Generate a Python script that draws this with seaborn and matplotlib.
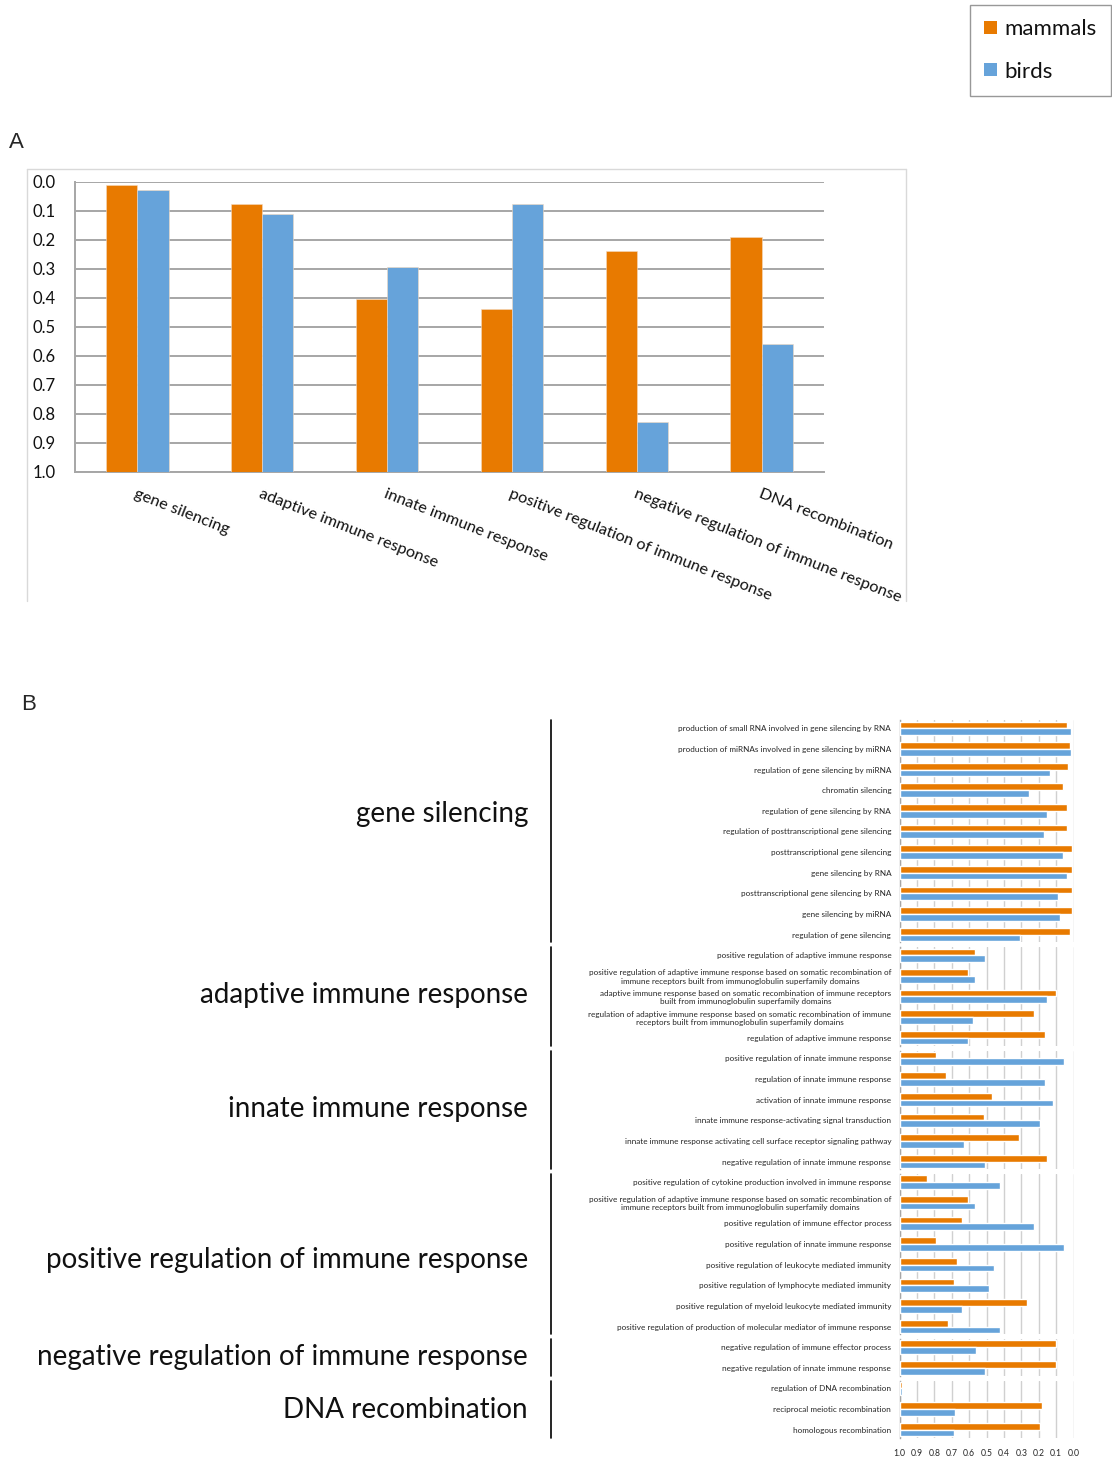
import numpy as np
import pandas as pd
import matplotlib
matplotlib.use("Agg")
import matplotlib.pyplot as plt
import seaborn as sns
from matplotlib.lines import Line2D
from matplotlib.patches import Patch

# ---------------- data ----------------
species = ["mammals", "birds"]
palette = {"mammals": "#E87A00", "birds": "#66A3DA"}

# Panel A
categories_A = ["gene silencing", "adaptive immune response", "innate immune response",
                "positive regulation of immune response",
                "negative regulation of immune response", "DNA recombination"]
mammals_A = [0.010, 0.078, 0.405, 0.440, 0.240, 0.192]
birds_A = [0.030, 0.112, 0.294, 0.078, 0.828, 0.561]
yticks_A = [0.0, 0.1, 0.2, 0.3, 0.4, 0.5, 0.6, 0.7, 0.8, 0.9, 1.0]

# Panel B
gs_terms = ["production of small RNA involved in gene silencing by RNA",
            "production of miRNAs involved in gene silencing by miRNA",
            "regulation of gene silencing by miRNA",
            "chromatin silencing",
            "regulation of gene silencing by RNA",
            "regulation of posttranscriptional gene silencing",
            "posttranscriptional gene silencing",
            "gene silencing by RNA",
            "posttranscriptional gene silencing by RNA",
            "gene silencing by miRNA",
            "regulation of gene silencing"]
gs_mammals = [0.040, 0.020, 0.030, 0.060, 0.036, 0.036, 0.010, 0.006, 0.010, 0.010, 0.020]
gs_birds = [0.015, 0.015, 0.134, 0.254, 0.151, 0.170, 0.060, 0.036, 0.088, 0.078, 0.306]

ad_terms = ["positive regulation of adaptive immune response",
            "positive regulation of adaptive immune response based on somatic recombination of\nimmune receptors built from immunoglobulin superfamily domains",
            "adaptive immune response based on somatic recombination of immune receptors\nbuilt from immunoglobulin superfamily domains",
            "regulation of adaptive immune response based on somatic recombination of immune\nreceptors built from immunoglobulin superfamily domains",
            "regulation of adaptive immune response"]
ad_mammals = [0.566, 0.604, 0.098, 0.226, 0.161]
ad_birds = [0.509, 0.566, 0.151, 0.577, 0.604]

in_terms = ["positive regulation of innate immune response",
            "regulation of innate immune response",
            "activation of innate immune response",
            "innate immune response-activating signal transduction",
            "innate immune response activating cell surface receptor signaling pathway",
            "negative regulation of innate immune response"]
in_mammals = [0.790, 0.732, 0.467, 0.514, 0.316, 0.155]
in_birds = [0.054, 0.161, 0.119, 0.191, 0.629, 0.509]

po_terms = ["positive regulation of cytokine production involved in immune response",
            "positive regulation of adaptive immune response based on somatic recombination of\nimmune receptors built from immunoglobulin superfamily domains",
            "positive regulation of immune effector process",
            "positive regulation of innate immune response",
            "positive regulation of leukocyte mediated immunity",
            "positive regulation of lymphocyte mediated immunity",
            "positive regulation of myeloid leukocyte mediated immunity",
            "positive regulation of production of molecular mediator of immune response"]
po_mammals = [0.841, 0.604, 0.642, 0.790, 0.669, 0.686, 0.270, 0.721]
po_birds = [0.421, 0.566, 0.226, 0.054, 0.459, 0.484, 0.642, 0.421]

ne_terms = ["negative regulation of immune effector process",
            "negative regulation of innate immune response"]
ne_mammals = [0.101, 0.101]
ne_birds = [0.558, 0.509]

dn_terms = ["regulation of DNA recombination",
            "reciprocal meiotic recombination",
            "homologous recombination"]
dn_mammals = [0.985, 0.180, 0.193]
dn_birds = [0.985, 0.679, 0.686]

group_labels = ["gene silencing", "adaptive immune response", "innate immune response",
                "positive regulation of immune response",
                "negative regulation of immune response", "DNA recombination"]
xticks_B = [1.0, 0.9, 0.8, 0.7, 0.6, 0.5, 0.4, 0.3, 0.2, 0.1, 0.0]

# ---------------- style ----------------
sns.set_theme(style="white")
plt.rcParams['font.family'] = ['Lato', 'DejaVu Sans']

W, H = 1112, 1461
fig = plt.figure(figsize=(W / 100, H / 100), dpi=100)


def fx(px):
    return px / W


def fy(py):
    return 1 - py / H


# ---------------- Panel A ----------------
axA = fig.add_axes([fx(75), fy(471.7), (824 - 75) / W, (471.7 - 181.7) / H])
dfA = pd.DataFrame({
    "category": categories_A * 2,
    "species": ["mammals"] * len(categories_A) + ["birds"] * len(categories_A),
    "p": mammals_A + birds_A,
})
dfA["offset"] = dfA["p"] - 1.0
sns.barplot(data=dfA, x="category", y="offset", hue="species", order=categories_A,
            hue_order=species, palette=palette, width=0.5, errorbar=None,
            saturation=1, legend=False, bottom=1.0, ax=axA, zorder=3,
            edgecolor="#f4d9bf", linewidth=0.4)
axA.set_xlim(-0.5, len(categories_A) - 0.5)
axA.set_ylim(1.0, 0.0)
axA.set_yticks(yticks_A)
axA.set_yticklabels([f"{v:.1f}" for v in yticks_A])
axA.yaxis.grid(True, color="#A6A6A6", lw=1.4)
axA.xaxis.grid(False)
axA.set_axisbelow(True)
for s in ["top", "right"]:
    axA.spines[s].set_visible(False)
for s in ["left", "bottom"]:
    axA.spines[s].set_color("#A6A6A6")
    axA.spines[s].set_linewidth(1.4)
axA.tick_params(axis="y", length=0, pad=14, labelsize=12, labelcolor="#111111")
axA.tick_params(axis="x", length=0, pad=11, labelsize=11.7, labelcolor="#111111")
axA.set_xticks(range(len(categories_A)))
axA.set_xticklabels(categories_A, rotation=-21.5, ha="left", va="top",
                    rotation_mode="anchor")
axA.set_xlabel("")
axA.set_ylabel("")

# outer chart frame
for xs, ys in [([27, 27], [169, 601]), ([27, 906], [169, 169]), ([906, 906], [169, 601])]:
    fig.add_artist(Line2D([fx(x) for x in xs], [fy(y) for y in ys],
                          color="#D9D9D9", lw=1.0))

fig.text(fx(9), fy(143), "A", fontsize=16, ha="left", va="center",
         family=["Liberation Sans", "DejaVu Sans"])

# legend
handles = [Patch(facecolor=palette[s], edgecolor="none", label=s) for s in species]
leg = fig.legend(handles=handles, loc="upper right", bbox_to_anchor=(fx(1111), fy(5)),
                 frameon=True, fancybox=False, edgecolor="#7F7F7F", fontsize=16,
                 handlelength=0.55, handleheight=0.55, handletextpad=0.35,
                 labelspacing=1.0, borderpad=0.65, borderaxespad=0)
leg.get_frame().set_linewidth(1.0)
for t in leg.get_texts():
    t.set_color("#111111")

# ---------------- Panel B ----------------
fig.text(fx(21), fy(704), "B", fontsize=16, ha="left", va="center",
         family=["Liberation Sans", "DejaVu Sans"])

groups = [
    (gs_terms, gs_mammals, gs_birds),
    (ad_terms, ad_mammals, ad_birds),
    (in_terms, in_mammals, in_birds),
    (po_terms, po_mammals, po_birds),
    (ne_terms, ne_mammals, ne_birds),
    (dn_terms, dn_mammals, dn_birds),
]
group_label_y = [814, 995, 1109, 1260, 1357, 1410]

row_px = 20.63
first_center = 728.3
gap_px = 5.0
start = 0
for gi, (terms, mam, bir) in enumerate(groups):
    n = len(terms)
    top = first_center + (start - 0.5) * row_px + gap_px / 2
    bottom = first_center + (start + n - 0.5) * row_px - gap_px / 2
    ax = fig.add_axes([fx(899.5), fy(bottom), (1073.5 - 899.5) / W, (bottom - top) / H])
    df = pd.DataFrame({
        "term": terms * 2,
        "species": ["mammals"] * n + ["birds"] * n,
        "p": mam + bir,
    })
    df["offset"] = df["p"] - 1.0
    sns.barplot(data=df, y="term", x="offset", hue="species", order=terms,
                hue_order=species, palette=palette, width=0.65, orient="h",
                errorbar=None, saturation=1, legend=False, left=1.0, ax=ax, zorder=3)
    ax.set_xlim(1.0, 0.0)
    g = gap_px / row_px / 2
    ax.set_ylim(n - 0.5 - g, -0.5 + g)
    ax.set_xticks(xticks_B)
    ax.xaxis.grid(True, color="#D0D0D0", lw=1.0)
    ax.yaxis.grid(False)
    ax.set_axisbelow(True)
    for s in ["top", "right", "bottom"]:
        ax.spines[s].set_visible(False)
    ax.spines["left"].set_color("#A6A6A6")
    ax.spines["left"].set_linewidth(1.0)
    ax.tick_params(axis="y", length=0, pad=6, labelsize=5.9, labelcolor="#262626")
    for lab in ax.get_yticklabels():
        lab.set_multialignment("center")
    if gi == len(groups) - 1:
        ax.set_xticklabels([f"{v:.1f}" for v in xticks_B])
        ax.tick_params(axis="x", length=0, pad=8, labelsize=6.2, labelcolor="#262626")
    else:
        ax.tick_params(axis="x", length=0, labelbottom=False)
    ax.set_xlabel("")
    ax.set_ylabel("")

    fig.add_artist(Line2D([fx(551), fx(551)], [fy(top), fy(bottom)], color="black", lw=1.2))
    fig.text(fx(528), fy(group_label_y[gi]), group_labels[gi], ha="right", va="center",
             fontsize=20, color="#111111")
    start += n

fig.savefig("out.png", dpi=100)
